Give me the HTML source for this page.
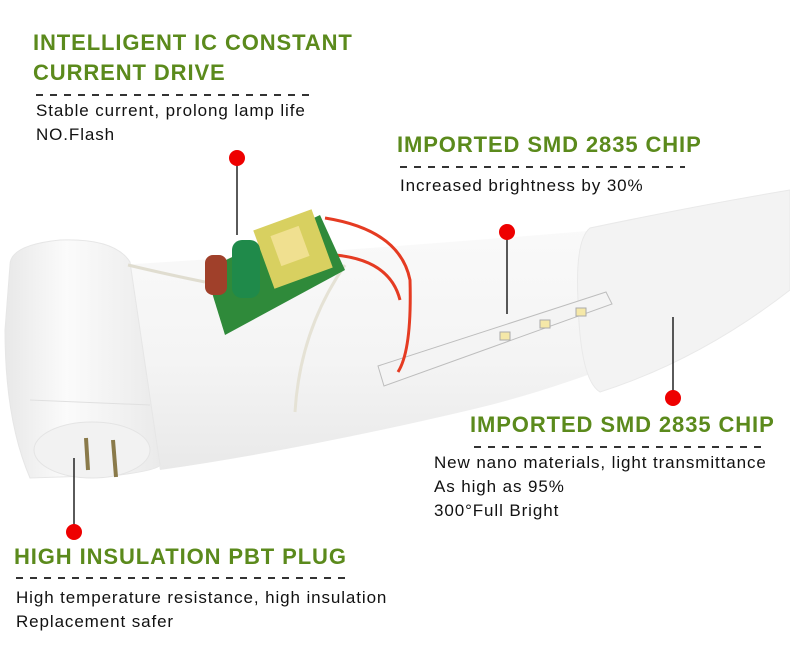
<!DOCTYPE html>
<html><head><style>
body{margin:0;width:790px;height:652px;background:#fff;position:relative;overflow:hidden;font-family:"Liberation Sans",Arial,sans-serif}
.h{position:absolute;color:#5b8a1c;font-weight:bold;font-size:22px;white-space:nowrap;letter-spacing:0.9px}
.t{position:absolute;color:#111;font-size:17px;line-height:24px;white-space:nowrap;letter-spacing:0.9px}
.d{position:absolute;height:2px;background:repeating-linear-gradient(90deg,#333 0 7px,transparent 7px 14px)}
svg{position:absolute;left:0;top:0}
</style></head><body>
<svg width="790" height="652">
<defs>
<linearGradient id="g1" x1="0" y1="0" x2="0" y2="1"><stop offset="0" stop-color="#fbfbfb"/><stop offset="0.6" stop-color="#f4f4f4"/><stop offset="1" stop-color="#e9e9e9"/></linearGradient>
<linearGradient id="g2" x1="0" y1="0" x2="1" y2="0"><stop offset="0" stop-color="#e8e8e8"/><stop offset="0.4" stop-color="#fbfbfb"/><stop offset="1" stop-color="#eaeaea"/></linearGradient>
</defs>
<path d="M120,265 Q360,250 600,230 L790,195 L790,290 Q600,380 470,410 Q300,450 160,470 Z" fill="url(#g1)"/>
<path d="M590,228 Q575,240 578,300 Q580,380 600,392 Q700,360 790,290 L790,190 Q700,205 590,228 Z" fill="#f3f3f3" stroke="#e9e9e9"/>
<path d="M378,366 L606,292 L612,304 L384,386 Z" fill="#f4f4f4" stroke="#bdbdbd"/>
<rect x="500" y="332" width="10" height="8" fill="#f5e8a8" stroke="#aaa"/>
<rect x="540" y="320" width="10" height="8" fill="#f5e8a8" stroke="#aaa"/>
<rect x="576" y="308" width="10" height="8" fill="#f5e8a8" stroke="#aaa"/>
<path d="M10,265 Q10,245 60,240 Q115,238 130,262 L160,465 Q158,470 120,475 L30,478 Q5,420 5,330 Z" fill="url(#g2)" stroke="#e6e6e6"/>
<path d="M30,400 L150,405" stroke="#e0e0e0"/>
<ellipse cx="92" cy="450" rx="58" ry="28" fill="#f2f2f2" stroke="#e4e4e4"/>
<line x1="86" y1="438" x2="88" y2="470" stroke="#8a7a4a" stroke-width="4"/>
<line x1="113" y1="440" x2="116" y2="477" stroke="#8a7a4a" stroke-width="4"/>
<path d="M128,265 Q170,275 205,282" stroke="#e0ddd0" stroke-width="3" fill="none"/>
<path d="M345,265 Q300,330 295,412" stroke="#e5e2d5" stroke-width="3" fill="none"/>
<path d="M325,218 Q400,230 410,280 Q412,350 398,372" stroke="#e53b22" stroke-width="3" fill="none"/>
<path d="M335,255 Q390,260 400,300" stroke="#e53b22" stroke-width="3" fill="none"/>
<path d="M205,270 L320,215 L345,270 L225,335 Z" fill="#2f8a3a"/>
<rect x="262" y="218" width="62" height="62" fill="#d8d060" transform="rotate(-20 293 249)"/>
<rect x="275" y="230" width="30" height="32" fill="#f0e090" transform="rotate(-20 290 246)"/>
<rect x="232" y="240" width="28" height="58" rx="10" fill="#1f8a4a"/>
<rect x="205" y="255" width="22" height="40" rx="8" fill="#a0402a"/>
<line x1="237" y1="158" x2="237" y2="235" stroke="#222" stroke-width="1.5"/>
<circle cx="237" cy="158" r="8" fill="#e00"/>
<line x1="507" y1="232" x2="507" y2="314" stroke="#222" stroke-width="1.5"/>
<circle cx="507" cy="232" r="8" fill="#e00"/>
<line x1="673" y1="317" x2="673" y2="398" stroke="#222" stroke-width="1.5"/>
<circle cx="673" cy="398" r="8" fill="#e00"/>
<line x1="74" y1="458" x2="74" y2="532" stroke="#222" stroke-width="1.5"/>
<circle cx="74" cy="532" r="8" fill="#e00"/>
</svg>
<div class="h" style="left:33px;top:30px">INTELLIGENT IC CONSTANT</div>
<div class="h" style="left:33px;top:60px">CURRENT DRIVE</div>
<div class="d" style="left:36px;top:94px;width:280px"></div>
<div class="t" style="left:36px;top:99px">Stable current, prolong lamp life<br>NO.Flash</div>
<div class="h" style="left:397px;top:132px">IMPORTED SMD 2835 CHIP</div>
<div class="d" style="left:400px;top:166px;width:285px"></div>
<div class="t" style="left:400px;top:174px">Increased brightness by 30%</div>
<div class="h" style="left:470px;top:412px">IMPORTED SMD 2835 CHIP</div>
<div class="d" style="left:474px;top:446px;width:294px"></div>
<div class="t" style="left:434px;top:451px">New nano materials, light transmittance<br>As high as 95%<br>300°Full Bright</div>
<div class="h" style="left:14px;top:544px">HIGH INSULATION PBT PLUG</div>
<div class="d" style="left:16px;top:577px;width:336px"></div>
<div class="t" style="left:16px;top:586px">High temperature resistance, high insulation<br>Replacement safer</div>
</body></html>
